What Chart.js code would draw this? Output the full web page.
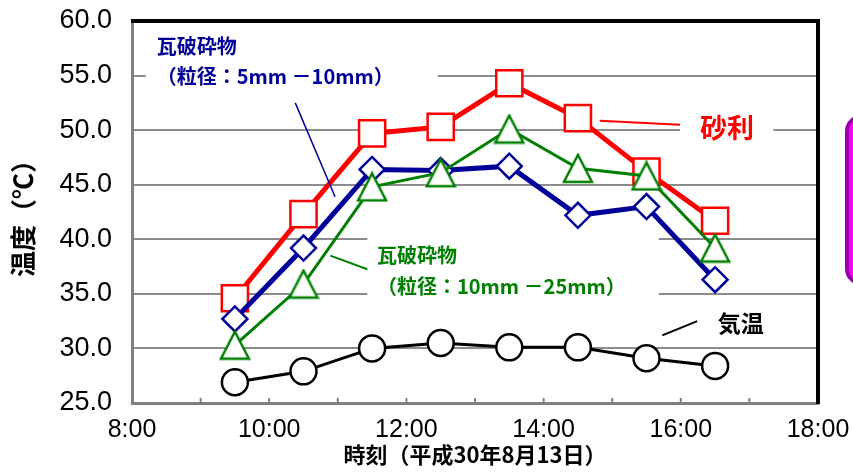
<!DOCTYPE html>
<html>
<head>
<meta charset="utf-8">
<script src="https://cdn.jsdelivr.net/npm/chart.js@4/dist/chart.umd.min.js"></script>
<style>
  body { margin: 0; background: #fff; }
</style>
</head>
<body>
<canvas id="tempChart" width="853" height="472"></canvas>
<script>
const hours = [9.5, 10.5, 11.5, 12.5, 13.5, 14.5, 15.5, 16.5];
const gravel = [34.6, 42.3, 49.7, 50.3, 54.3, 51.1, 46.2, 41.7];
const tileSmall = [32.7, 39.2, 46.4, 46.3, 46.7, 42.2, 43.0, 36.3];
const tileLarge = [30.3, 35.9, 44.8, 46.1, 50.1, 46.5, 45.8, 39.2];
const airTemp = [26.9, 27.9, 30.0, 30.5, 30.1, 30.1, 29.1, 28.4];

const seriesNames = ["砂利", "瓦破砕物（粒径：5mm －10mm）", "瓦破砕物（粒径：10mm －25mm）", "気温"];
const xTickHours = [8, 10, 12, 14, 16, 18];
const xTickLabels = ["8:00", "10:00", "12:00", "14:00", "16:00", "18:00"];

const cjk = '"Noto Sans CJK JP", "Noto Sans", sans-serif';
const latin = '"Liberation Sans", Arial, sans-serif';

function toPoints(values) {
    return values.map((v, i) => ({ x: hours[i], y: v }));
}

// open triangle marker, centred on its bounding box like the original
function triangleMarker(color) {
    const c = document.createElement("canvas");
    c.width = 32;
    c.height = 31;
    const g = c.getContext("2d");
    g.beginPath();
    g.moveTo(16, 2);
    g.lineTo(30, 29);
    g.lineTo(2, 29);
    g.closePath();
    g.fillStyle = "#fff";
    g.fill();
    g.lineWidth = 2.5;
    g.strokeStyle = color;
    g.stroke();
    return c;
}

// callout labels, placed in axis units (hours, degrees)
const notes = [
    { lines: ["瓦破砕物", "（粒径：5mm －10mm）"], color: "#000099", size: 20, x: 8.36, y: [57.7, 54.9],
      box: [8.2, 12.46, 59.5, 52.7], leader: [10.38, 52.5, 10.96, 43.9], leaderWidth: 1.5 },
    { lines: ["砂利"], color: "#ff0000", size: 27, x: 16.28, y: [50.2],
      box: [15.99, 17.35, 51.7, 48.4], leader: [14.82, 50.85, 15.99, 50.5], leaderWidth: 2 },
    { lines: ["瓦破砕物", "（粒径：10mm －25mm）"], color: "#008000", size: 20, x: 11.57, y: [38.5, 35.7],
      box: [11.43, 15.68, 40.9, 34.3], leader: [10.89, 38.5, 11.43, 37.25], leaderWidth: 2 },
    { lines: ["気温"], color: "#000000", size: 23, x: 16.54, y: [32.3],
      box: null, leader: [15.73, 31.2, 16.24, 32.5], leaderWidth: 2 },
];

const annotate = {
    id: "annotate",
    beforeDatasetsDraw(chart) {
        const { ctx, scales: { x, y }, chartArea } = chart;
        ctx.save();
        // white label backgrounds hide the grid lines
        ctx.fillStyle = "#fff";
        notes.forEach(n => {
            if (!n.box) return;
            const x0 = x.getPixelForValue(n.box[0]), x1 = x.getPixelForValue(n.box[1]);
            const y0 = y.getPixelForValue(n.box[2]), y1 = y.getPixelForValue(n.box[3]);
            ctx.fillRect(x0, y0, x1 - x0, y1 - y0);
        });
        // inward hour ticks on the time axis
        ctx.strokeStyle = "#808080";
        ctx.lineWidth = 2;
        for (let h = 9; h < 18; h++) {
            const px = x.getPixelForValue(h);
            ctx.beginPath();
            ctx.moveTo(px, chartArea.bottom);
            ctx.lineTo(px, chartArea.bottom - 5);
            ctx.stroke();
        }
        ctx.restore();
    },
    afterDatasetsDraw(chart) {
        const { ctx, scales: { x, y } } = chart;
        ctx.save();
        notes.forEach(n => {
            ctx.strokeStyle = n.color;
            ctx.lineWidth = n.leaderWidth;
            ctx.beginPath();
            ctx.moveTo(x.getPixelForValue(n.leader[0]), y.getPixelForValue(n.leader[1]));
            ctx.lineTo(x.getPixelForValue(n.leader[2]), y.getPixelForValue(n.leader[3]));
            ctx.stroke();
            ctx.fillStyle = n.color;
            ctx.font = "bold " + n.size + "px " + cjk;
            ctx.textAlign = "left";
            ctx.textBaseline = "middle";
            n.lines.forEach((t, i) => {
                ctx.fillText(t, x.getPixelForValue(n.x), y.getPixelForValue(n.y[i]));
            });
        });
        ctx.restore();
    },
    afterDraw(chart) {
        const { ctx, chartArea: a } = chart;
        ctx.save();
        // black top and right frame
        ctx.strokeStyle = "#000";
        ctx.lineWidth = 4;
        ctx.beginPath();
        ctx.moveTo(a.left - 1, a.top);
        ctx.lineTo(a.right, a.top);
        ctx.lineTo(a.right, a.bottom + 1);
        ctx.stroke();
        // clipped magenta box at the right edge
        ctx.fillStyle = "#ff00ff";
        ctx.strokeStyle = "#9900aa";
        ctx.lineWidth = 4;
        ctx.beginPath();
        ctx.roundRect(847, 117, 40, 166, 14);
        ctx.fill();
        ctx.stroke();
        ctx.restore();
    },
};

new Chart(document.getElementById("tempChart"), {
    type: "line",
    data: {
        datasets: [
            {
                label: seriesNames[3],
                data: toPoints(airTemp),
                borderColor: "#000",
                borderWidth: 3,
                pointStyle: "circle",
                pointRadius: 13,
                pointBorderWidth: 2.5,
                pointBorderColor: "#000",
                pointBackgroundColor: "#fff",
            },
            {
                label: seriesNames[2],
                data: toPoints(tileLarge),
                borderColor: "#008000",
                borderWidth: 3,
                pointStyle: triangleMarker("#008000"),
            },
            {
                label: seriesNames[1],
                data: toPoints(tileSmall),
                borderColor: "#000099",
                borderWidth: 5,
                pointStyle: "rectRot",
                pointRadius: 12.5,
                pointBorderWidth: 2.5,
                pointBorderColor: "#000099",
                pointBackgroundColor: "#fff",
            },
            {
                label: seriesNames[0],
                data: toPoints(gravel),
                borderColor: "#ff0000",
                borderWidth: 5,
                pointStyle: "rect",
                pointRadius: 18.5,
                pointBorderWidth: 2.5,
                pointBorderColor: "#ff0000",
                pointBackgroundColor: "#fff",
            },
        ],
    },
    options: {
        responsive: false,
        animation: false,
        layout: { padding: { left: 0, right: 35, top: 17, bottom: 0 } },
        plugins: {
            legend: { display: false },
            tooltip: { enabled: false },
        },
        scales: {
            x: {
                type: "linear",
                min: 8,
                max: 18,
                afterFit: s => { s.height = 69; s.paddingLeft = 0; s.paddingRight = 0; },
                ticks: {
                    stepSize: 2,
                    padding: 12,
                    color: "#000",
                    font: { family: latin, size: 25 },
                    callback: v => {
                        const i = xTickHours.indexOf(v);
                        return i >= 0 ? xTickLabels[i] : "";
                    },
                },
                grid: { drawOnChartArea: false, drawTicks: false },
                border: { color: "#808080", width: 3 },
                title: {
                    display: true,
                    text: "時刻（平成30年8月13日）",
                    color: "#000",
                    font: { family: cjk, size: 22, weight: "bold" },
                    padding: { top: 0, bottom: 4 },
                },
            },
            y: {
                min: 25,
                max: 60,
                afterFit: s => { s.width = 132; s.paddingTop = 0; s.paddingBottom = 0; },
                ticks: {
                    stepSize: 5,
                    padding: 20,
                    color: "#000",
                    font: { family: latin, size: 27 },
                    callback: v => v.toFixed(1),
                },
                grid: { color: "#8c8c8c", lineWidth: 2, drawTicks: false },
                border: { color: "#808080", width: 3 },
                title: {
                    display: true,
                    text: "温度（℃）",
                    color: "#000",
                    font: { family: cjk, size: 26, weight: "bold" },
                    padding: { top: 8, bottom: 0 },
                },
            },
        },
    },
    plugins: [annotate],
});
</script>
</body>
</html>
